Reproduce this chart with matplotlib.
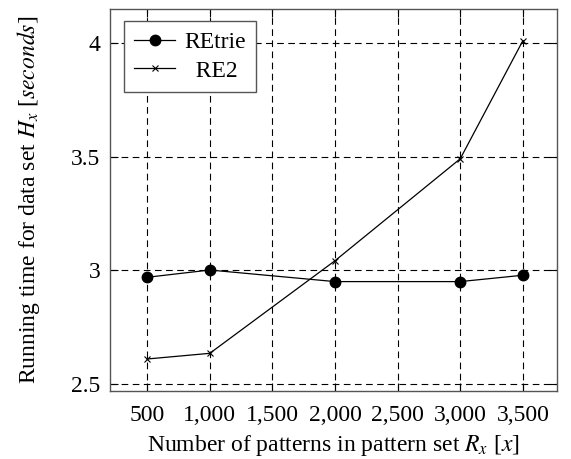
import numpy as np
import matplotlib
matplotlib.use('Agg')
import matplotlib.pyplot as plt

plt.rcParams['font.family'] = ['Liberation Serif', 'DejaVu Serif']
plt.rcParams['mathtext.fontset'] = 'stix'

# data
patterns = [500, 1000, 2000, 3000, 3500]
retrie = [2.968, 3.0, 2.949, 2.949, 2.977]
re2 = [2.608, 2.633, 3.041, 3.49, 4.01]
xticks = [500, 1000, 1500, 2000, 2500, 3000, 3500]
xticklabels = ['500', '1,000', '1,500', '2,000', '2,500', '3,000', '3,500']
yticks = [2.5, 3.0, 3.5, 4.0]
yticklabels = ['2.5', '3', '3.5', '4']

fig = plt.figure(figsize=(5.71, 4.59), dpi=100)
ax = fig.add_axes([110/571, 1-391/459, 447/571, 382/459])

ax.plot(patterns, retrie, 'k-', marker='o', ms=7.5, lw=0.9, label='REtrie')
ax.plot(patterns, re2, 'k-', marker='x', ms=4.5, mew=0.8, lw=0.9, label='  RE2')

ax.set_xlim(203, 3773)
ax.set_ylim(2.467, 4.15)
ax.set_xticks(xticks)
ax.set_xticklabels(xticklabels)
ax.set_yticks(yticks)
ax.set_yticklabels(yticklabels)
ax.grid(True, color='k', ls=(0, (6, 4)), lw=0.8)
ax.tick_params(direction='in', top=True, right=True, length=6, width=0.8,
               labelsize=17, colors='k', pad=7)
ax.tick_params(axis='x', pad=10)
for s in ax.spines.values():
    s.set_color('#555555')
    s.set_linewidth(1.0)

ax.set_xlabel('Number of patterns in pattern set $R_x$ [$x$]', fontsize=17, labelpad=5)
ax.set_ylabel('Running time for data set $H_x$ [$seconds$]', fontsize=17, labelpad=21)

leg = ax.legend(loc='upper left', fontsize=17, fancybox=False, framealpha=1,
                edgecolor='#555555', borderpad=0.45, handlelength=1.7,
                handletextpad=0.4, labelspacing=0.3, borderaxespad=0,
                bbox_to_anchor=(0.031, 0.969))
leg.get_frame().set_linewidth(1.0)

fig.savefig('out.png', dpi=100)
